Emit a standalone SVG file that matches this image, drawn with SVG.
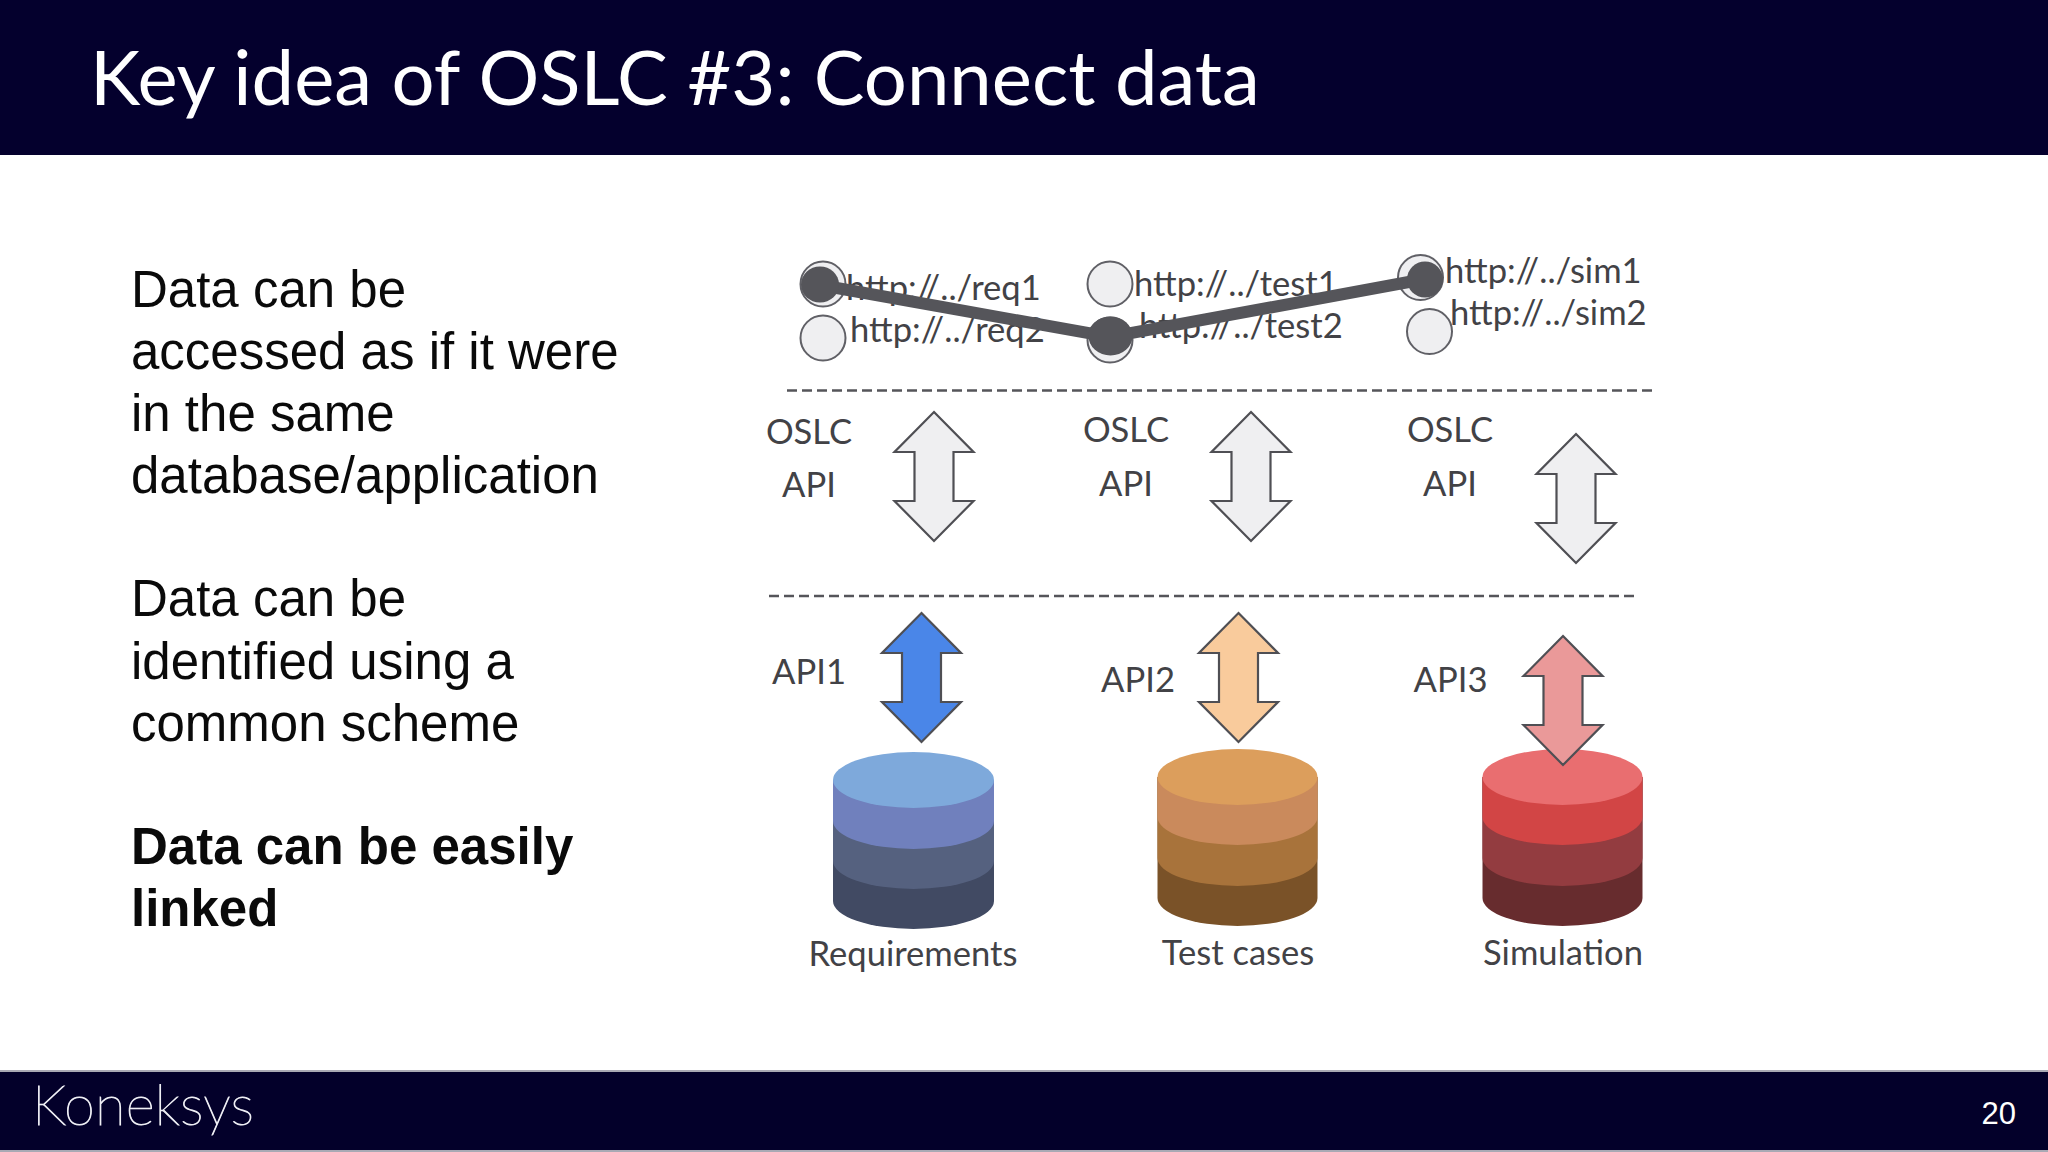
<svg xmlns="http://www.w3.org/2000/svg" width="2048" height="1152" viewBox="0 0 2048 1152">
<style>
.body{font-family:"Liberation Sans",Arial,sans-serif;font-size:51px;fill:#0a0a0a}
.b{font-weight:700}
.lab{font-family:Lato,"Liberation Sans",sans-serif;font-size:34.6px;fill:#424246}
.m{text-anchor:middle}
.res{fill:#efeff1;stroke:#606066;stroke-width:2}
.dot{fill:#55555a}
.arr{stroke:#4f4f54;stroke-width:2.2;stroke-linejoin:miter}
.dash{stroke:#55555a;stroke-width:2.5;stroke-dasharray:10 5;fill:none}
</style>
<defs>
<path id="dbl" d="M0 0L39.5 40H19.5V89H39.5L0 129L-39.5 89H-19.5V40H-39.5Z"/>
</defs>
<rect width="2048" height="1152" fill="#fff"/>
<g id="header">
<rect width="2048" height="155" fill="#04002d"/>
<text x="90" y="105" font-family="Lato,'Liberation Sans',sans-serif" font-size="76" fill="#fff" id="title">Key idea of OSLC #3: Connect data</text>
</g>
<g id="bullets">
<text class="body" x="131" y="307">Data can be</text>
<text class="body" x="131" y="369">accessed as if it were</text>
<text class="body" x="131" y="431">in the same</text>
<text class="body" x="131" y="493">database/application</text>
<text class="body" x="131" y="616">Data can be</text>
<text class="body" x="131" y="678.500">identified using a</text>
<text class="body" x="131" y="740.500">common scheme</text>
<text class="body b" x="131" y="864">Data can be easily</text>
<text class="body b" x="131" y="926">linked</text>
</g>
<g id="resources">
<g id="res-req1"><circle class="res" cx="823" cy="284" r="22.5"/><text class="lab" x="846" y="300">http://../req1</text></g>
<g id="res-req2"><circle class="res" cx="823" cy="338" r="22.5"/><text class="lab" x="850" y="342">http://../req2</text></g>
<g id="res-test1"><circle class="res" cx="1110" cy="284" r="22.5"/><text class="lab" x="1134" y="296">http://../test1</text></g>
<g id="res-test2"><circle class="res" cx="1110" cy="340" r="22.5"/><text class="lab" x="1139" y="338">http://../test2</text></g>
<g id="res-sim1"><circle class="res" cx="1420.5" cy="277.5" r="22.5"/><text class="lab" x="1445" y="283">http://../sim1</text></g>
<g id="res-sim2"><circle class="res" cx="1429.5" cy="331.5" r="22.5"/><text class="lab" x="1450" y="325">http://../sim2</text></g>
</g>
<g id="connectors">
<path d="M820 285L1110 337L1425 279" fill="none" stroke="#55555a" stroke-width="12"/>
<ellipse class="dot" cx="820" cy="284.500" rx="19" ry="18"/>
<ellipse class="dot" cx="1110.500" cy="336" rx="22" ry="19.500"/>
<ellipse class="dot" cx="1425" cy="279.500" rx="18" ry="18"/>
<path class="dash" d="M787 390.500H1656"/>
<path class="dash" d="M769 596H1638"/>
</g>
<g id="oslc-1"><text class="lab m" x="809" y="444">OSLC</text><text class="lab m" x="809" y="497">API</text><use href="#dbl" x="934" y="412" fill="#efeff1" class="arr"/></g>
<g id="oslc-2"><text class="lab m" x="1126" y="442">OSLC</text><text class="lab m" x="1126" y="495.500">API</text><use href="#dbl" x="1251" y="412" fill="#efeff1" class="arr"/></g>
<g id="oslc-3"><text class="lab m" x="1450" y="442">OSLC</text><text class="lab m" x="1450" y="495.500">API</text><use href="#dbl" x="1576" y="434" fill="#efeff1" class="arr"/></g>
<g id="db-req">
<path fill="#414a63" d="M833 780V901A80.500 28 0 0 0 994 901V780Z"/>
<path fill="#55617f" d="M833 780V861A80.500 28 0 0 0 994 861V780Z"/>
<path fill="#7080bd" d="M833 780V821A80.500 28 0 0 0 994 821V780Z"/>
<ellipse cx="913.500" cy="780" rx="80.500" ry="28" fill="#7ea9db"/>
<text class="lab m" x="913" y="965.500">Requirements</text>
</g>
<g id="db-test">
<path fill="#7a5228" d="M1157.500 777V898A80 28 0 0 0 1317.500 898V777Z"/>
<path fill="#a8733b" d="M1157.500 777V858A80 28 0 0 0 1317.500 858V777Z"/>
<path fill="#ca8a5c" d="M1157.500 777V817A80 28 0 0 0 1317.500 817V777Z"/>
<ellipse cx="1237.500" cy="777" rx="80" ry="28" fill="#dc9e5c"/>
<text class="lab m" x="1238" y="965">Test cases</text>
</g>
<g id="db-sim">
<path fill="#672c2e" d="M1482.500 777V898A80 28 0 0 0 1642.500 898V777Z"/>
<path fill="#933c40" d="M1482.500 777V858A80 28 0 0 0 1642.500 858V777Z"/>
<path fill="#d24545" d="M1482.500 777V817A80 28 0 0 0 1642.500 817V777Z"/>
<ellipse cx="1562.500" cy="777" rx="80" ry="28" fill="#e96e70"/>
<text class="lab m" x="1563" y="965">Simulation</text>
</g>
<g id="api-1"><text class="lab m" x="809" y="684">API1</text><use href="#dbl" x="921.500" y="613" fill="#4a86e8" class="arr"/></g>
<g id="api-2"><text class="lab m" x="1138" y="692">API2</text><use href="#dbl" x="1238.500" y="613" fill="#f9cb9c" class="arr"/></g>
<g id="api-3"><text class="lab m" x="1450.500" y="692">API3</text><use href="#dbl" x="1563" y="636" fill="#ea9999" class="arr"/></g>
<g id="footer">
<rect y="1070" width="2048" height="82" fill="#a9a9b4"/>
<rect y="1072" width="2048" height="78" fill="#03002a"/>
<text x="32" y="1125" font-family="Lato,'Liberation Sans',sans-serif" font-weight="100" font-size="56" fill="#eeeef4" stroke="#eeeef4" stroke-width="0.9" textLength="222" lengthAdjust="spacing">Koneksys</text>
<text x="2016" y="1124" text-anchor="end" font-family="'Liberation Sans',Arial,sans-serif" font-size="31" fill="#fff">20</text>
</g>
</svg>
